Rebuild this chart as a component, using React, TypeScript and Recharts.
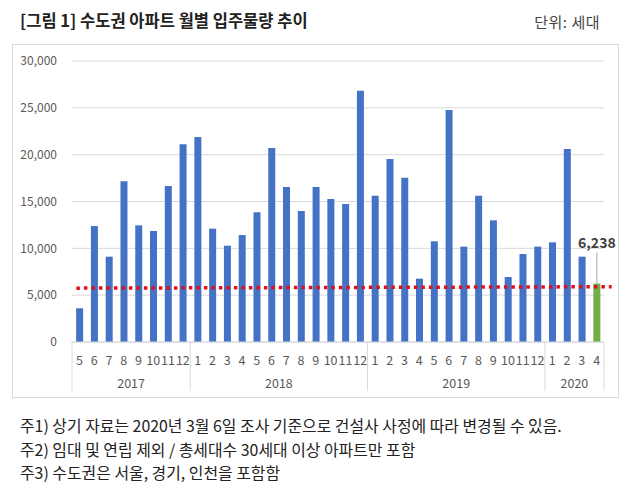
import { BarChart, Bar, Cell, XAxis, YAxis, CartesianGrid, ReferenceLine, LabelList } from "recharts";

const YEAR_LABELS = ["2017", "2018", "2019", "2020"];
const YEAR_COUNTS = [8, 12, 12, 4];
const MONTH_LABELS = [
  "5", "6", "7", "8", "9", "10", "11", "12",
  "1", "2", "3", "4", "5", "6", "7", "8", "9", "10", "11", "12",
  "1", "2", "3", "4", "5", "6", "7", "8", "9", "10", "11", "12",
  "1", "2", "3", "4",
];
// 월별 입주물량 (세대)
const SUPPLY = [
  3600, 12380, 9110, 17150, 12450, 11850, 16650, 21100,
  21890, 12100, 10280, 11420, 13840, 20710, 16550, 13980, 16550, 15270, 14730, 26830,
  15620, 19540, 17540, 6760, 10750, 24770, 10180, 15620, 12990, 6940, 9390, 10180,
  10640, 20600, 9110, 6238,
];
const HIGHLIGHT_INDEX = 35;
const AVG_LINE = [5750, 5900];
const Y_TICKS = [0, 5000, 10000, 15000, 20000, 25000, 30000];
const NOTES = [
  "주1) 상기 자료는 2020년 3월 6일 조사 기준으로 건설사 사정에 따라 변경될 수 있음.",
  "주2) 임대 및 연립 제외 / 총세대수 30세대 이상 아파트만 포함",
  "주3) 수도권은 서울, 경기, 인천을 포함함",
];

const FONT = '"Noto Sans CJK KR", "Noto Sans", sans-serif';
const BLUE = "#4472C4";
const GREEN = "#70AD47";
const RED = "#E0101A";
const AXIS_TEXT = "#595959";
const LINE_GRAY = "#d9d9d9";

const CHART_W = 605;
const CHART_H = 352;
const MARGIN = { top: 16, right: 14, left: 0, bottom: 0 };
const Y_AXIS_W = 59;
const BAND = (CHART_W - MARGIN.left - MARGIN.right - Y_AXIS_W) / MONTH_LABELS.length;

// build rows with year grouping info
const data: any[] = [];
{
  let i = 0;
  YEAR_LABELS.forEach((year, g) => {
    for (let k = 0; k < YEAR_COUNTS[g]; k++) {
      data.push({
        key: `${year}-${MONTH_LABELS[i]}`,
        month: MONTH_LABELS[i],
        year,
        value: SUPPLY[i],
        groupStart: k === 0,
        groupCount: YEAR_COUNTS[g],
        last: i === MONTH_LABELS.length - 1,
      });
      i++;
    }
  });
}
const rowByKey: Record<string, any> = {};
data.forEach((d) => (rowByKey[d.key] = d));

const MonthYearTick = (props: any) => {
  const { x, y, payload } = props;
  const row = rowByKey[payload.value];
  if (!row) return null;
  const left = x - BAND / 2;
  return (
    <g>
      <text x={x} y={y + 17} textAnchor="middle" dominantBaseline="central" fontSize={12.5} fill={AXIS_TEXT} fontFamily={FONT}>
        {row.month}
      </text>
      {row.groupStart && (
        <>
          <line x1={left} y1={y} x2={left} y2={y + 49} stroke={LINE_GRAY} />
          <text
            x={left + (row.groupCount * BAND) / 2}
            y={y + 40}
            textAnchor="middle"
            dominantBaseline="central"
            fontSize={12.5}
            fill={AXIS_TEXT}
            fontFamily={FONT}
          >
            {row.year}
          </text>
        </>
      )}
      {row.last && <line x1={x + BAND / 2} y1={y} x2={x + BAND / 2} y2={y + 49} stroke={LINE_GRAY} />}
    </g>
  );
};

const HighlightLabel = (props: any) => {
  const { x, y, width, value, index } = props;
  if (index !== HIGHLIGHT_INDEX) return null;
  const cx = x + width / 2;
  return (
    <g>
      <line x1={cx} y1={y - 31} x2={cx} y2={y} stroke="#a6a6a6" />
      <text x={cx} y={y - 42} textAnchor="middle" dominantBaseline="central" fontSize={14} fontWeight="bold" fill="#404040" fontFamily={FONT}>
        {Number(value).toLocaleString("en-US")}
      </text>
    </g>
  );
};

const AvgLine = (props: any) => {
  const { x1, y1, x2, y2 } = props;
  if (x1 == null) return null;
  return <line x1={x1 - 3} y1={y1} x2={x2 + 15} y2={y2} stroke={RED} strokeWidth={3.5} strokeDasharray="3.5 4" />;
};

export default function App() {
  return (
    <div style={{ position: "absolute", left: 0, top: 0, width: 630, height: 495, background: "#fff", fontFamily: FONT }}>
      <div style={{ position: "absolute", left: 20, top: 9, fontSize: 16.5, lineHeight: "22px", fontWeight: "bold", color: "#222", whiteSpace: "nowrap" }}>
        [그림 1] 수도권 아파트 월별 입주물량 추이
      </div>
      <div style={{ position: "absolute", right: 30, top: 11, fontSize: 15, lineHeight: "22px", color: "#444", whiteSpace: "nowrap", letterSpacing: 0.5 }}>
        단위: 세대
      </div>
      <div style={{ position: "absolute", left: 12, top: 44, width: CHART_W, height: CHART_H, border: `1px solid ${LINE_GRAY}` }}>
        <BarChart width={CHART_W} height={CHART_H} data={data} margin={MARGIN} barCategoryGap="28%">
          <CartesianGrid vertical={false} stroke={LINE_GRAY} />
          <XAxis
            dataKey="key"
            interval={0}
            height={CHART_H - MARGIN.top - 281}
            tickLine={false}
            tickSize={0}
            tickMargin={0}
            axisLine={{ stroke: LINE_GRAY }}
            tick={<MonthYearTick />}
          />
          <YAxis
            width={Y_AXIS_W}
            domain={[0, 30000]}
            ticks={Y_TICKS}
            axisLine={false}
            tickLine={false}
            tickSize={0}
            tickMargin={15}
            tickFormatter={(v: number) => v.toLocaleString("en-US")}
            tick={{ fontSize: 12, fill: AXIS_TEXT, fontFamily: FONT }}
          />
          <Bar dataKey="value" isAnimationActive={false}>
            {data.map((d, i) => (
              <Cell key={d.key} fill={i === HIGHLIGHT_INDEX ? GREEN : BLUE} />
            ))}
            <LabelList dataKey="value" content={<HighlightLabel />} />
          </Bar>
          <ReferenceLine
            segment={[
              { x: data[0].key, y: AVG_LINE[0] },
              { x: data[data.length - 1].key, y: AVG_LINE[1] },
            ]}
            shape={<AvgLine />}
          />
        </BarChart>
      </div>
      <div style={{ position: "absolute", left: 20, top: 414, fontSize: 15.9, lineHeight: "23.5px", color: "#222", whiteSpace: "nowrap" }}>
        {NOTES.map((n) => (
          <div key={n}>{n}</div>
        ))}
      </div>
    </div>
  );
}
